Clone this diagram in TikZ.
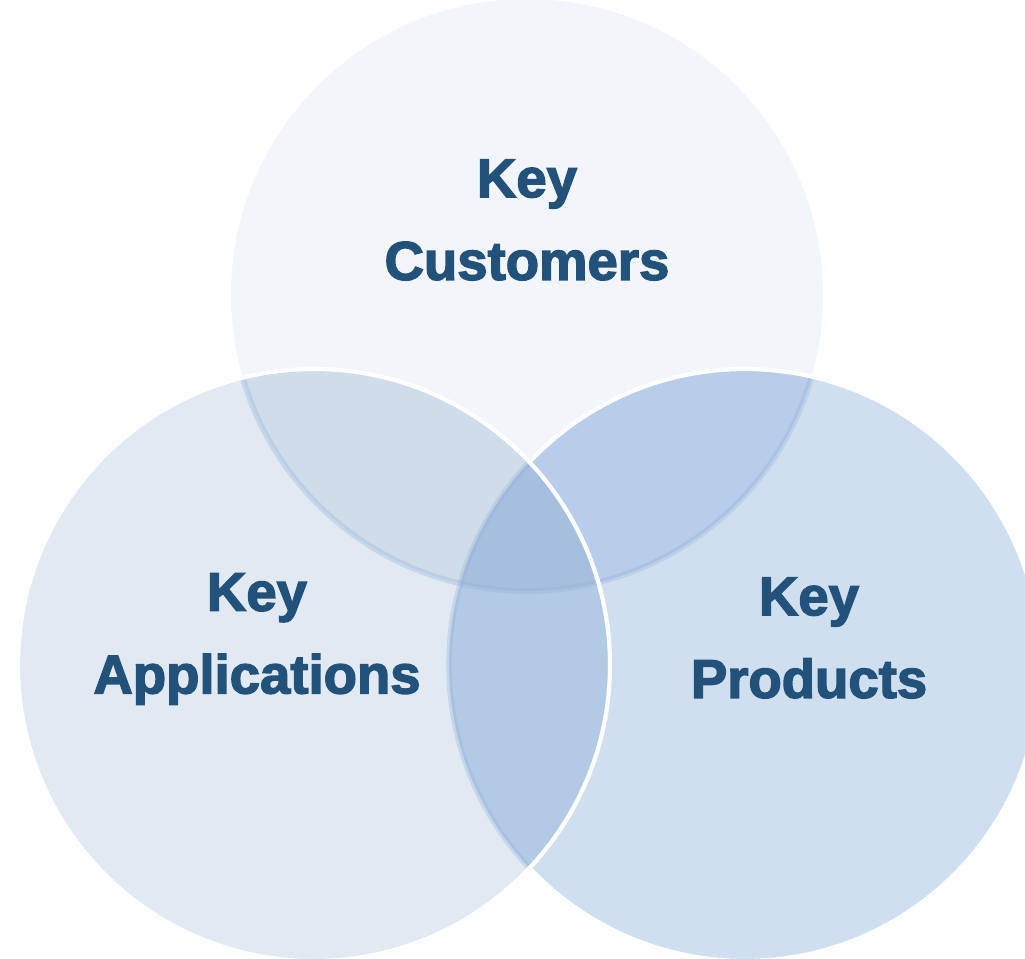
\documentclass[tikz,border=0pt]{standalone}
\usepackage{fontspec}
\newfontfamily\keyfont{Liberation Sans}[BoldFeatures={FakeBold=2.6}]
\usetikzlibrary{positioning}
\definecolor{custfill}{HTML}{F2F6FA}
\definecolor{appfill}{HTML}{E1E9F3}
\definecolor{prodfill}{HTML}{D0DFEF}
\definecolor{custapp}{HTML}{CFDCEA}
\definecolor{custprod}{HTML}{B7CDEA}
\definecolor{appprod}{HTML}{B3CAE4}
\definecolor{allthree}{HTML}{A6BFDF}
\definecolor{keytext}{HTML}{22527A}
\definecolor{rim}{HTML}{8EAED8}
\tikzset{
  label/.style={
      align=center, text=keytext,
      font=\keyfont\bfseries\fontsize{15.5pt}{23.5pt}\selectfont,
  },
  whiterim/.style={
    draw=white, line width=1.2pt,
  },
  softrim/.style={
    draw=rim, draw opacity=0.3, line width=1.6pt,
  }
}

\begin{document}
\begin{tikzpicture}[x=0.01cm,y=-0.01cm]
\useasboundingbox (0,0) rectangle (1025,958);
\def\rad{296}
\coordinate (cust) at (527,295);
\coordinate (app) at (314,665);
\coordinate (prod) at (745,665);

% customers
\fill [custfill] (cust) circle (\rad);
% products, over customers
\fill [prodfill] (prod) circle (\rad);
\begin{scope}
  \clip (prod) circle (\rad);
  \fill [custprod] (cust) circle (\rad);
  \draw [softrim] (cust) circle (\rad);
\end{scope}
\draw [whiterim] (prod) circle (\rad);
% applications, over both
\fill [appfill] (app) circle (\rad);
\begin{scope}
  \clip (app) circle (\rad);
  \fill [custapp] (cust) circle (\rad);
  \fill [appprod] (prod) circle (\rad);
  \begin{scope}
    \clip (cust) circle (\rad);
    \fill [allthree] (prod) circle (\rad);
  \end{scope}
  \draw [softrim] (cust) circle (\rad);
  \draw [softrim] (prod) circle (\rad);
\end{scope}
\draw [whiterim] (app) circle (\rad);

\node [label] (customers) at (527,220) {Key\\Customers};
\node [label] (applications) at (257,639) {Key\\Applications};
\node [label] (products) at (809,638) {Key\\Products};
\end{tikzpicture}
\end{document}
